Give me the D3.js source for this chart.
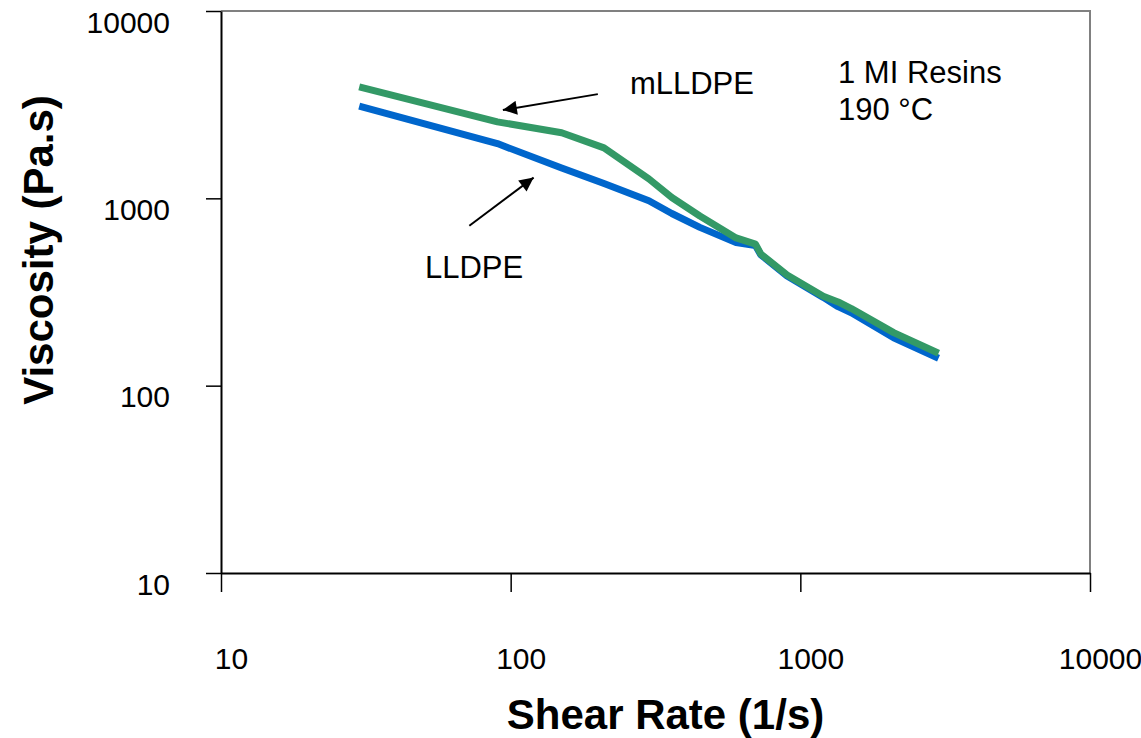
<!DOCTYPE html>
<html>
<head>
<meta charset="utf-8">
<script src="https://cdn.jsdelivr.net/npm/d3@7"></script>
<style>
  body { margin: 0; background: #fff; }
  svg text { font-family: Arial, "Liberation Sans", sans-serif; fill: #000; }
</style>
</head>
<body>
<div id="chart"></div>
<script>
// shear rate (1/s) and viscosity (Pa.s)
const shearRate = [30, 90, 150, 210, 300, 360, 450, 600, 700, 730, 900, 1200, 1350, 1500, 2100, 3000];
const lldpe  = [3110, 1960, 1450, 1200, 970, 830, 700, 580, 560, 500, 385, 296, 264, 245, 180, 140];
const mlldpe = [3940, 2560, 2240, 1860, 1270, 1010, 805, 615, 570, 505, 390, 300, 280, 258, 192, 149];

const xTicks = [10, 100, 1000, 10000];
const yTicks = [10, 100, 1000, 10000];

// arrows: [fromX, fromY, toX, toY] in data units
const arrows = [
    [200, 3600, 94, 2960],
    [72, 714, 120, 1290]
];
const notes = [
    { text: "mLLDPE", x: 258, y: 3600 },
    { text: "LLDPE", x: 50.6, y: 377 },
    { text: "1 MI Resins", x: 1349, y: 4130 },
    { text: "190 °C", x: 1349, y: 2624 }
];

const W = 1141, H = 738;
const margin = { left: 221, right: 51, top: 11, bottom: 165 };

const svg = d3.select("#chart")
    .append("svg")
    .attr("width", W)
    .attr("height", H);

const x = d3.scaleLog()
    .domain([10, 10000])
    .range([margin.left, W - margin.right]);

const y = d3.scaleLog()
    .domain([10, 10000])
    .range([H - margin.bottom, margin.top]);

//frame top and right
svg.append("path")
    .attr("d", `M${x(10)},${y(10000)}H${x(10000)}V${y(10)}`)
    .attr("fill", "none")
    .attr("stroke", "#808080")
    .attr("stroke-width", 2);

//axes
const xAxis = svg.append("g")
    .attr("transform", `translate(0,${y(10)})`)
    .call(d3.axisBottom(x).tickValues(xTicks).tickSize(19).tickSizeOuter(0).tickFormat(d3.format("d")));

const yAxis = svg.append("g")
    .attr("transform", `translate(${x(10)},0)`)
    .call(d3.axisLeft(y).tickValues(yTicks).tickSize(15).tickSizeOuter(0).tickFormat(d3.format("d")));

[xAxis, yAxis].forEach(g => {
    g.select(".domain").attr("stroke", "#000").attr("stroke-width", 2);
    g.selectAll(".tick line").attr("stroke", "#000").attr("stroke-width", 1.5);
    g.selectAll(".tick text")
        .attr("font-family", "Arial, 'Liberation Sans', sans-serif")
        .attr("font-size", 30)
        .attr("fill", "#000");
});

xAxis.selectAll(".tick text")
    .attr("y", 96)
    .attr("dy", 0)
    .attr("dx", 10);

yAxis.selectAll(".tick text")
    .attr("x", -51)
    .attr("dy", 21);

//series
const line = d3.line()
    .x(d => x(d[0]))
    .y(d => y(d[1]));

const series = [
    { name: "LLDPE", values: lldpe, color: "#0066cc" },
    { name: "mLLDPE", values: mlldpe, color: "#339966" }
];

svg.append("g")
    .selectAll("path")
    .data(series)
    .enter()
    .append("path")
    .attr("d", s => line(shearRate.map((r, i) => [r, s.values[i]])))
    .attr("fill", "none")
    .attr("stroke", s => s.color)
    .attr("stroke-width", 7)
    .attr("stroke-linejoin", "round");

//arrows
svg.append("defs")
    .append("marker")
    .attr("id", "head")
    .attr("viewBox", "0 0 10 10")
    .attr("refX", 10)
    .attr("refY", 5)
    .attr("markerUnits", "userSpaceOnUse")
    .attr("markerWidth", 17)
    .attr("markerHeight", 14)
    .attr("orient", "auto")
    .append("path")
    .attr("d", "M0,0L10,5L0,10z")
    .attr("fill", "#000");

svg.append("g")
    .selectAll("line")
    .data(arrows)
    .enter()
    .append("line")
    .attr("x1", d => x(d[0]))
    .attr("y1", d => y(d[1]))
    .attr("x2", d => x(d[2]))
    .attr("y2", d => y(d[3]))
    .attr("stroke", "#000")
    .attr("stroke-width", 2)
    .attr("marker-end", "url(#head)");

svg.append("g")
    .selectAll("text")
    .data(notes)
    .enter()
    .append("text")
    .attr("x", d => x(d.x))
    .attr("y", d => y(d.y))
    .attr("font-size", 31)
    .text(d => d.text);

//axis titles
svg.append("text")
    .attr("x", (x(10) + x(10000)) / 2 + 10)
    .attr("y", 729)
    .attr("text-anchor", "middle")
    .attr("font-size", 42)
    .attr("font-weight", "bold")
    .text("Shear Rate (1/s)");

svg.append("text")
    .attr("transform", "translate(53,250) rotate(-90)")
    .attr("text-anchor", "middle")
    .attr("font-size", 42)
    .attr("font-weight", "bold")
    .text("Viscosity (Pa.s)");
</script>
</body>
</html>
